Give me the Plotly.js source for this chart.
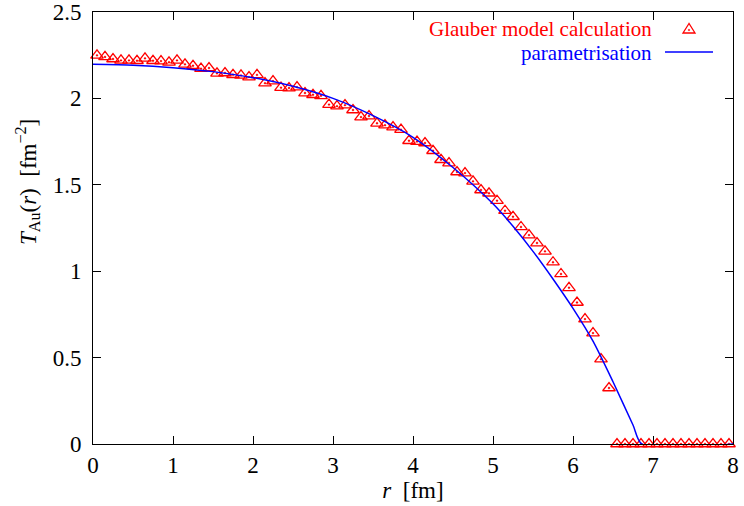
<!DOCTYPE html>
<html>
<head>
<meta charset="utf-8">
<script src="https://cdn.plot.ly/plotly-3.0.1.min.js"></script>
<style>
  html, body { margin: 0; padding: 0; background: #ffffff; }
  #chart { width: 744px; height: 506px; }
</style>
</head>
<body>
<div id="chart"></div>
<script>
// Glauber model calculation: radius r [fm] (bin centres) and T_Au(r) [fm^-2]
const glauberR = [
  0.05, 0.15, 0.25, 0.35, 0.45, 0.55, 0.65, 0.75, 0.85, 0.95,
  1.05, 1.15, 1.25, 1.35, 1.45, 1.55, 1.65, 1.75, 1.85, 1.95,
  2.05, 2.15, 2.25, 2.35, 2.45, 2.55, 2.65, 2.75, 2.85, 2.95,
  3.05, 3.15, 3.25, 3.35, 3.45, 3.55, 3.65, 3.75, 3.85, 3.95,
  4.05, 4.15, 4.25, 4.35, 4.45, 4.55, 4.65, 4.75, 4.85, 4.95,
  5.05, 5.15, 5.25, 5.35, 5.45, 5.55, 5.65, 5.75, 5.85, 5.95,
  6.05, 6.15, 6.25, 6.35, 6.45, 6.55, 6.65, 6.75, 6.85, 6.95,
  7.05, 7.15, 7.25, 7.35, 7.45, 7.55, 7.65, 7.75, 7.85, 7.95
];
const glauberT = [
  2.249, 2.240, 2.228, 2.220, 2.220, 2.218, 2.232, 2.218, 2.216, 2.209,
  2.220, 2.197, 2.189, 2.172, 2.176, 2.145, 2.147, 2.137, 2.133, 2.123,
  2.136, 2.088, 2.100, 2.062, 2.060, 2.065, 2.031, 2.021, 2.015, 1.964,
  1.955, 1.961, 1.933, 1.892, 1.898, 1.856, 1.845, 1.834, 1.819, 1.755,
  1.750, 1.742, 1.697, 1.645, 1.626, 1.574, 1.568, 1.520, 1.470, 1.451,
  1.408, 1.350, 1.315, 1.256, 1.209, 1.163, 1.115, 1.052, 0.984, 0.904,
  0.819, 0.723, 0.642, 0.491, 0.324, 0, 0, 0, 0, 0,
  0, 0, 0, 0, 0, 0, 0, 0, 0, 0
];

// Parametrisation curve
const paramR = [0, 0.5, 1.0, 1.5, 2.0, 2.5, 3.0, 3.5, 4.0, 4.5, 5.0, 5.25, 5.5, 5.75, 6.0, 6.25, 6.5, 6.75, 6.86, 8.0];
const paramT = [2.197, 2.192, 2.178, 2.155, 2.12, 2.07, 2.0, 1.90, 1.775, 1.60, 1.39, 1.26, 1.115, 0.955, 0.785, 0.595, 0.36, 0.11, 0, 0];

const xTicks = [0, 1, 2, 3, 4, 5, 6, 7, 8];
const yTicks = [0, 0.5, 1, 1.5, 2, 2.5];
const yTickText = ['0', '0.5', '1', '1.5', '2', '2.5'];

const seriesNames = ['Glauber model calculation', 'parametrisation'];
const seriesColors = ['#ff0000', '#0000ff'];

const FONT = 'Liberation Serif';

const traces = [
  {
    x: glauberR, y: glauberT, type: 'scatter', mode: 'markers',
    name: seriesNames[0], cliponaxis: false, showlegend: false,
    marker: { symbol: 'triangle-up-open-dot', size: 11, color: seriesColors[0],
              line: { color: seriesColors[0], width: 1.3 } }
  },
  {
    x: paramR, y: paramT, type: 'scatter', mode: 'lines',
    name: seriesNames[1], showlegend: false,
    line: { color: seriesColors[1], width: 1.5, shape: 'spline', smoothing: 0.7 }
  }
];

// paper-coordinate helpers for the plot area (93..733 px, 12..444 px)
const L = 93, R = 733, T = 12, B = 444;
const px = v => (v - L) / (R - L);
const py = v => (B - v) / (B - T);

const layout = {
  width: 744, height: 506,
  margin: { l: L, r: 744 - R, t: T, b: 506 - B, pad: 0 },
  paper_bgcolor: '#ffffff', plot_bgcolor: '#ffffff',
  font: { family: FONT, size: 22, color: '#000000' },
  showlegend: false,
  xaxis: {
    range: [0, 8], tickmode: 'array', tickvals: xTicks,
    ticks: 'inside', ticklen: 8, tickwidth: 1, tickcolor: '#000',
    showline: true, linecolor: '#000', linewidth: 1, mirror: 'allticks',
    showgrid: false, zeroline: false,
    tickfont: { family: FONT, size: 23, color: '#000' },
    ticklabelstandoff: 0,
    title: { text: '<i>r</i>  [fm]', font: { family: FONT, size: 23, color: '#000' }, standoff: 0 }
  },
  yaxis: {
    range: [0, 2.5], tickmode: 'array', tickvals: yTicks, ticktext: yTickText,
    ticks: 'inside', ticklen: 8, tickwidth: 1, tickcolor: '#000',
    showline: true, linecolor: '#000', linewidth: 1, mirror: 'allticks',
    showgrid: false, zeroline: false,
    tickfont: { family: FONT, size: 23, color: '#000' },
    ticklabelstandoff: 6
  },
  annotations: [
    { xref: 'paper', yref: 'paper', x: px(27), y: py(182), xanchor: 'center', yanchor: 'middle',
      textangle: -90, showarrow: false,
      text: '<i>T</i><sub>Au</sub>(<i>r</i>)  [fm<sup>−2</sup>]',
      font: { family: FONT, size: 23, color: '#000' } },
    { xref: 'paper', yref: 'paper', x: px(653), y: py(29), xanchor: 'right', yanchor: 'middle',
      showarrow: false, text: seriesNames[0], borderpad: 0,
      font: { family: FONT, size: 21, color: seriesColors[0] } },
    { xref: 'paper', yref: 'paper', x: px(653), y: py(52.5), xanchor: 'right', yanchor: 'middle',
      showarrow: false, text: seriesNames[1], borderpad: 0,
      font: { family: FONT, size: 21, color: seriesColors[1] } }
  ],
  shapes: [
    // legend key: triangle with centre dot
    { type: 'path', xref: 'paper', yref: 'paper',
      path: 'M ' + px(689) + ' ' + py(23.5) + ' L ' + px(683) + ' ' + py(33) + ' L ' + px(695) + ' ' + py(33) + ' Z',
      line: { color: seriesColors[0], width: 1.3 }, fillcolor: 'rgba(0,0,0,0)' },
    { type: 'circle', xref: 'paper', yref: 'paper',
      x0: px(688.2), x1: px(689.8), y0: py(30.8), y1: py(29.2),
      line: { color: seriesColors[0], width: 0.5 }, fillcolor: seriesColors[0] },
    // legend key: line
    { type: 'line', xref: 'paper', yref: 'paper',
      x0: px(665), x1: px(713), y0: py(52), y1: py(52),
      line: { color: seriesColors[1], width: 1.5 } }
  ]
};

Plotly.newPlot('chart', traces, layout, { displayModeBar: false, staticPlot: true });
</script>
</body>
</html>
